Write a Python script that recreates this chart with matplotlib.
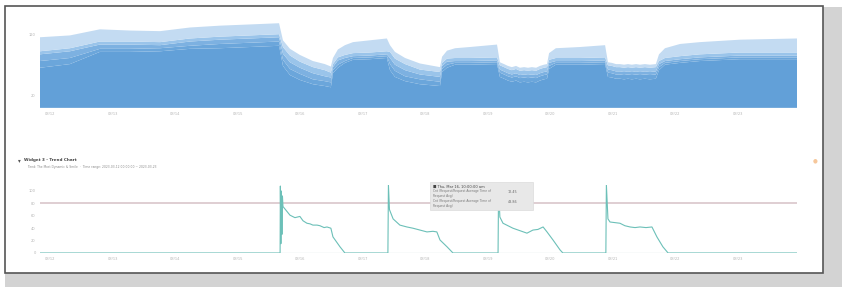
import matplotlib.pyplot as plt
from matplotlib.patches import Rectangle

# ---------------- data ----------------
# top chart: stacked series, x in hours since 03/11 20:00
hours_top = [0, 11.5, 23, 34.6, 46.1, 57.6, 69.1, 80.6, 91.8,
             93.3, 96, 99.8, 104.8, 109.4, 111.7,
             112.5, 114.4, 117.1, 120.2, 126.7, 133.2,
             134.4, 136.3, 140.2, 145.9, 153.6,
             154.4, 156.3, 159.4, 165.1, 175.5,
             176.6, 178.2, 179.7, 181.2, 182.8, 184.3, 185.9, 187.4, 188.9, 190.5, 192, 193.5, 194.7,
             195.5, 198.1, 207.4, 217,
             218.1, 219.6, 221.2, 222.7, 224.3, 225.8, 227.3, 228.9, 230.4, 232.3, 234.2, 236.5,
             237.7, 240, 245.8, 253.4, 268.8, 290.7]
s1 = [66, 72, 92, 92, 93, 97, 98, 100, 102,
      69, 54, 46, 39, 36, 34,
      57, 66, 74, 79, 80, 82,
      62, 51, 44, 39, 36,
      59, 66, 71, 71, 72,
      51, 48, 45, 43, 45, 42, 43, 42, 43, 42, 45, 47, 48,
      64, 71, 71, 72,
      51, 50, 48, 48, 47, 48, 47, 48, 47, 48, 47, 48,
      62, 71, 74, 77, 80, 80]
s2 = [11, 10, 5, 5, 5, 5, 7, 7, 7,
      10, 10, 10, 8, 8, 8,
      5, 5, 3, 3, 3, 3,
      10, 10, 8, 8, 7,
      5, 5, 3, 3, 3,
      7, 7, 7, 7, 7, 7, 7, 7, 7, 7, 7, 7, 7,
      5, 3, 3, 3,
      7, 7, 7, 7, 7, 7, 7, 7, 7, 7, 7, 7,
      5, 3, 3, 3, 3, 3]
s3 = [11, 11, 7, 7, 5, 7, 7, 7, 7,
      10, 11, 10, 10, 8, 8,
      5, 7, 5, 3, 3, 3,
      10, 10, 10, 8, 8,
      5, 5, 3, 3, 3,
      5, 5, 5, 5, 5, 5, 5, 5, 5, 5, 5, 5, 5,
      5, 3, 3, 3,
      5, 5, 5, 5, 5, 5, 5, 5, 5, 5, 5, 5,
      5, 3, 3, 3, 3, 3]
s4 = [5, 5, 5, 5, 5, 5, 5, 5, 5,
      11, 11, 10, 10, 10, 8,
      5, 5, 5, 5, 5, 5,
      10, 10, 10, 8, 8,
      5, 5, 5, 5, 5,
      7, 7, 7, 7, 7, 7, 7, 7, 7, 7, 7, 7, 7,
      5, 5, 5, 5,
      7, 7, 7, 7, 7, 7, 7, 7, 7, 7, 7, 7,
      5, 5, 5, 5, 5, 5]
s5 = [23, 21, 20, 18, 18, 18, 18, 18, 18,
      11, 11, 11, 10, 10, 10,
      10, 13, 16, 18, 20, 21,
      11, 11, 10, 10, 8,
      10, 13, 16, 18, 21,
      5, 5, 5, 5, 5, 5, 5, 5, 5, 5, 5, 5, 5,
      11, 16, 18, 20,
      5, 5, 5, 5, 5, 5, 5, 5, 5, 5, 5, 5,
      11, 16, 20, 20, 21, 23]
top_yticks = [20, 120]

# bottom chart: trend line
hours_bot = [0, 92.2, 92.3, 92.5, 92.7, 92.9, 93.1, 93.3, 96, 97.9, 99.8, 101, 102.5, 103.7,
             104.8, 106.4, 107.5, 109.1, 110.2, 111.7, 112.5, 115.2, 117.1,
             133.6, 133.8, 134.2, 135.6, 138.2, 140.9, 143.2, 145.9, 148.6, 150.9, 152.4,
             153.6, 156.3, 158.6,
             175.9, 176.1, 176.6, 177.8, 179.7, 181.6, 184.3, 187, 189.3, 191.2, 193.2,
             194.7, 197, 199.7, 200.8,
             217.3, 217.5, 218.1, 218.9, 220.8, 222.7, 224.6, 226.6, 228.5, 230.4, 232.7,
             235, 236.9, 239.2, 241.2, 290.7]
trend = [0, 0, 108, 15, 100, 30, 92, 75, 61, 57, 59, 52, 48, 47,
         45, 45, 44, 41, 42, 40, 26, 10, 0,
         0, 110, 70, 55, 45, 42, 40, 37, 34, 35, 34,
         21, 10, 0,
         0, 106, 58, 48, 44, 40, 36, 32, 37, 38, 42,
         34, 21, 5, 0,
         0, 110, 55, 50, 49, 48, 44, 42, 41, 42, 41,
         42, 26, 10, 0, 0]
threshold = 80
bot_yticks = [0, 20, 40, 60, 80, 100]

tick_hours = [4 + 24 * k for k in range(12)]
tick_labels = ["03/%d" % d for d in range(12, 24)]

layer_colors = ["#62a0d8", "#6ba6db", "#7db1e1", "#9ac4ea", "#c3dbf2"]

# ---------------- figure ----------------
fig = plt.figure(figsize=(8.42, 2.87), dpi=100)
W, H = 842, 287

# drop shadow + panel frame (behind the axes)
fig.patches.append(Rectangle((823 / W, 0), 19 / W, 1 - 7 / H, transform=fig.transFigure,
                             facecolor="#d3d3d3", edgecolor="none", zorder=-3))
fig.patches.append(Rectangle((5 / W, 0), 837 / W, 14 / H, transform=fig.transFigure,
                             facecolor="#d3d3d3", edgecolor="none", zorder=-3))
fig.patches.append(Rectangle((5 / W, 1 - 273 / H), 818 / W, 267 / H, transform=fig.transFigure,
                             facecolor="white", edgecolor="#555555", linewidth=1.2, zorder=-2))

# top stacked area
ax1 = fig.add_axes([40 / W, 1 - 108 / H, 757 / W, 86 / H])
ax1.stackplot(hours_top, s1, s2, s3, s4, s5, colors=layer_colors, linewidth=0)
ax1.set_xlim(0, 290.7)
ax1.set_ylim(0, 141)
ax1.set_yticks(top_yticks)
ax1.set_xticks(tick_hours)
ax1.set_xticklabels(tick_labels)
ax1.axhline(0, color="#cfe0f0", linewidth=1.0)

# bottom trend line
ax2 = fig.add_axes([40 / W, 1 - 253 / H, 757 / W, 68.2 / H])
ax2.axhline(threshold, color="#d9c6cb", linewidth=1.2, zorder=1)
ax2.plot(hours_bot, trend, color="#6cc0b8", linewidth=0.8, zorder=2)
ax2.axhline(0, color="#dde6ea", linewidth=1.0, zorder=1)
ax2.set_xlim(0, 290.7)
ax2.set_ylim(0, 110)
ax2.set_yticks(bot_yticks)
ax2.set_xticks(tick_hours)
ax2.set_xticklabels(tick_labels)

for ax in (ax1, ax2):
    for sp in ax.spines.values():
        sp.set_visible(False)
    ax.tick_params(length=0, labelsize=2.6, labelcolor="#b5b5b5", pad=3)
    ax.patch.set_alpha(0)

# header of bottom widget
fig.text(18 / W, 1 - 161 / H, "\u25be", fontsize=4, color="#555555", va="center")
fig.text(24 / W, 1 - 160.5 / H, "Widget 3 - Trend Chart", fontsize=3.0, color="#444444",
         fontweight="bold", va="center")
fig.text(27 / W, 1 - 167 / H,
         "Trend: The Most Dynamic & Smile  \u00b7  Time range: 2023-03-12 00:00:00 ~ 2023-03-23",
         fontsize=2.2, color="#8a8a8a", va="center")
fig.text(815 / W, 1 - 161 / H, "\u25cf", fontsize=4, color="#f6c79b", ha="center", va="center")

# tooltip
fig.patches.append(Rectangle((430 / W, 1 - 210 / H), 103 / W, 28 / H, transform=fig.transFigure,
                             facecolor="#e8e8e8", edgecolor="#dcdcdc", linewidth=0.5, zorder=5))
fig.text(433 / W, 1 - 186.5 / H, "\u25a0 Thu, Mar 16, 10:00:00 am", fontsize=2.6, color="#444444",
         va="center", zorder=6)
fig.text(433 / W, 1 - 193.5 / H, "Cnt (Request/Request Average Time of\nRequest Avg)",
         fontsize=2.2, color="#777777", va="center", linespacing=1.1, zorder=6)
fig.text(508 / W, 1 - 192 / H, "12.45", fontsize=2.4, color="#666666", va="center", zorder=6)
fig.text(433 / W, 1 - 203.5 / H, "Cnt (Request/Request Average Time of\nRequest Avg)",
         fontsize=2.2, color="#777777", va="center", linespacing=1.1, zorder=6)
fig.text(508 / W, 1 - 202 / H, "48.86", fontsize=2.4, color="#666666", va="center", zorder=6)

fig.savefig("out.png", dpi=100)
